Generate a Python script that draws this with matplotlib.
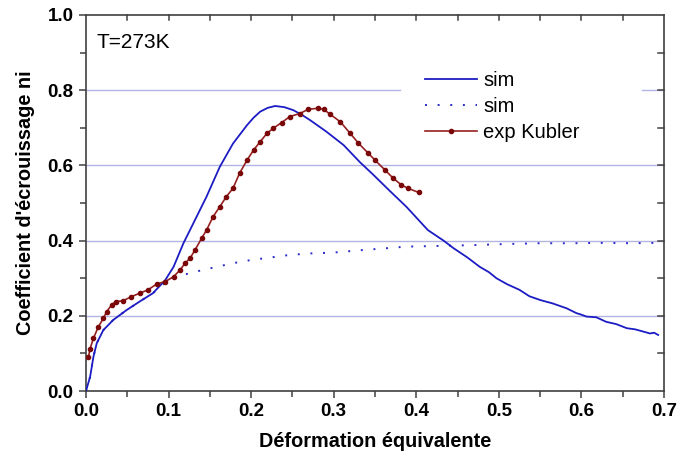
import matplotlib
matplotlib.use("Agg")
import matplotlib.pyplot as plt
from matplotlib.ticker import MultipleLocator, FormatStrFormatter

plt.rcParams['font.family'] = ['Liberation Sans', 'DejaVu Sans']

# Simulation (solid)
sim_x = [0.0, 0.005, 0.009, 0.013, 0.021, 0.033, 0.049, 0.065, 0.081, 0.096, 0.106,
         0.118, 0.130, 0.146, 0.162, 0.178, 0.195, 0.203, 0.211, 0.220, 0.229, 0.240,
         0.251, 0.261, 0.271, 0.291, 0.312, 0.332, 0.348, 0.368, 0.388, 0.414, 0.433,
         0.445, 0.462, 0.477, 0.488, 0.497, 0.51, 0.525, 0.537, 0.55, 0.565, 0.582,
         0.594, 0.6, 0.606, 0.618, 0.63, 0.642, 0.655, 0.665, 0.675, 0.683, 0.688, 0.693]
sim_y = [0.0, 0.038, 0.091, 0.127, 0.162, 0.189, 0.215, 0.238, 0.26, 0.295, 0.33,
         0.393, 0.446, 0.517, 0.596, 0.658, 0.707, 0.727, 0.743, 0.753, 0.758, 0.755,
         0.747, 0.735, 0.721, 0.69, 0.654, 0.608, 0.575, 0.532, 0.49, 0.428, 0.40,
         0.38, 0.355, 0.33, 0.316, 0.30, 0.284, 0.269, 0.252, 0.242, 0.233, 0.22,
         0.207, 0.203, 0.198, 0.196, 0.184, 0.178, 0.167, 0.164, 0.158, 0.153, 0.155, 0.149]

# Simulation (dotted)
sim2_x = [0.0, 0.005, 0.009, 0.013, 0.021, 0.033, 0.049, 0.065, 0.081, 0.094, 0.105,
          0.118, 0.138, 0.158, 0.178, 0.199, 0.223, 0.247, 0.273, 0.299, 0.33, 0.36,
          0.388, 0.43, 0.469, 0.51, 0.55, 0.59, 0.63, 0.66, 0.691]
sim2_y = [0.0, 0.038, 0.091, 0.127, 0.162, 0.189, 0.215, 0.238, 0.26, 0.284, 0.297,
          0.309, 0.32, 0.33, 0.34, 0.348, 0.355, 0.362, 0.366, 0.368, 0.374, 0.379,
          0.384, 0.386, 0.388, 0.391, 0.393, 0.393, 0.394, 0.393, 0.394]

# Experimental data (Kubler)
exp_x = [0.003, 0.005, 0.009, 0.015, 0.021, 0.025, 0.031, 0.036, 0.045, 0.055, 0.065,
         0.075, 0.086, 0.096, 0.106, 0.114, 0.120, 0.126, 0.132, 0.140, 0.146, 0.154,
         0.162, 0.170, 0.178, 0.186, 0.195, 0.203, 0.211, 0.219, 0.227, 0.237, 0.247,
         0.259, 0.269, 0.281, 0.288, 0.295, 0.308, 0.320, 0.330, 0.342, 0.350, 0.362,
         0.372, 0.382, 0.390, 0.403]
exp_y = [0.091, 0.113, 0.14, 0.171, 0.193, 0.211, 0.229, 0.238, 0.24, 0.251, 0.26,
         0.269, 0.285, 0.291, 0.304, 0.322, 0.34, 0.353, 0.375, 0.406, 0.428, 0.464,
         0.49, 0.517, 0.539, 0.579, 0.614, 0.641, 0.663, 0.685, 0.699, 0.714, 0.73,
         0.738, 0.749, 0.752, 0.749, 0.737, 0.716, 0.685, 0.659, 0.632, 0.614, 0.588,
         0.566, 0.548, 0.539, 0.528]

grid_levels = [0.2, 0.4, 0.6, 0.8]

fig = plt.figure(figsize=(6.78, 4.59), dpi=100)
ax = fig.add_axes([86/678, (459-391)/459, (664-86)/678, (391-15)/459])

gcol = '#b4b4e4'
for yv in grid_levels:
    if yv == 0.8:
        ax.axhline(yv, xmax=0.543, color=gcol, lw=1.0, zorder=0)
        ax.axhline(yv, xmin=0.962, color=gcol, lw=1.0, zorder=0)
    else:
        ax.axhline(yv, color=gcol, lw=1.0, zorder=0)

ax.plot(sim_x, sim_y, color='#1c1cc4', lw=1.3, label='sim', zorder=3)
ax.plot(sim2_x, sim2_y, color='#2a2ac8', lw=1.4, linestyle=(0, (1, 5.5)), label='sim', zorder=2)
ax.plot(exp_x, exp_y, color='#962020', lw=1.2, marker='o', ms=3.0,
        mfc='#7a0808', mec='#7a0808', label='exp Kubler', zorder=4)

ax.set_xlim(0, 0.7)
ax.set_ylim(0, 1.0)
ax.xaxis.set_major_locator(MultipleLocator(0.1))
ax.xaxis.set_minor_locator(MultipleLocator(0.05))
ax.yaxis.set_major_locator(MultipleLocator(0.2))
ax.yaxis.set_minor_locator(MultipleLocator(0.1))
ax.xaxis.set_major_formatter(FormatStrFormatter('%.1f'))
ax.yaxis.set_major_formatter(FormatStrFormatter('%.1f'))

for s in ax.spines.values():
    s.set_color('#404040')
    s.set_linewidth(1.2)

ax.tick_params(which='both', direction='out', color='#404040', width=1.1,
               top=False, right=False)
ax.tick_params(which='major', length=5, pad=4)
ax.tick_params(which='minor', length=4)
ax.tick_params(labelsize=13.5)
for lab in ax.get_xticklabels() + ax.get_yticklabels():
    lab.set_fontweight('bold')

# mirrored inward ticks on top/right
for xv in [i * 0.05 for i in range(1, 14)]:
    ax.plot([xv, xv], [1.0, 1.0 - 0.012], color='#404040', lw=1.1, clip_on=False)
for yv in [i * 0.1 for i in range(1, 10)]:
    ax.plot([0.7, 0.7 - 0.007], [yv, yv], color='#404040', lw=1.1, clip_on=False)

ax.set_xlabel("Déformation équivalente", fontsize=14.3, fontweight='bold', labelpad=8)
ax.set_ylabel("Coefficient d'écrouissage ni", fontsize=14.3, fontweight='bold', labelpad=9)

ax.text(0.018, 0.926, 'T=273K', transform=ax.transAxes, fontsize=15, va='center')

leg = ax.legend(loc='upper left', bbox_to_anchor=(0.551, 0.905), fontsize=14.5,
                handlelength=2.6, handletextpad=0.3, labelspacing=0.36,
                frameon=False, borderpad=0.5)
leg.set_zorder(5)

fig.savefig('out.png', dpi=100)
